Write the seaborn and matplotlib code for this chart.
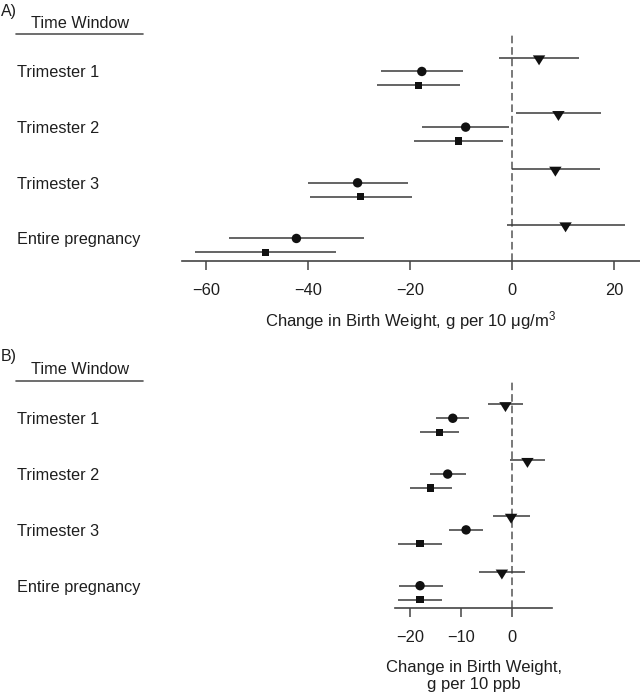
import numpy as np
import pandas as pd
import matplotlib
matplotlib.use("Agg")
import matplotlib.pyplot as plt
import matplotlib.transforms as mtransforms
from matplotlib.lines import Line2D
import seaborn as sns

# time windows and models (top to bottom inside each window)
windows = ["Trimester 1", "Trimester 2", "Trimester 3", "Entire pregnancy"]
models = ["Model 1", "Model 2", "Model 3"]

# panel A: change per 10 ug/m3
pm_m1_est = [5.3, 9.1, 8.5, 10.5]
pm_m1_lo = [-2.5, 0.8, 0.0, -1.0]
pm_m1_hi = [13.1, 17.4, 17.3, 22.2]
pm_m2_est = [-17.7, -9.1, -30.3, -42.3]
pm_m2_lo = [-25.7, -17.6, -40.1, -55.6]
pm_m2_hi = [-9.7, -0.5, -20.5, -29.0]
pm_m3_est = [-18.4, -10.5, -29.7, -48.4]
pm_m3_lo = [-26.4, -19.3, -39.7, -62.2]
pm_m3_hi = [-10.3, -1.8, -19.7, -34.5]

# panel B: change per 10 ppb
ppb_m1_est = [-1.3, 3.0, -0.2, -2.0]
ppb_m1_lo = [-4.8, -0.5, -3.8, -6.5]
ppb_m1_hi = [2.2, 6.5, 3.5, 2.6]
ppb_m2_est = [-11.6, -12.6, -9.0, -18.0]
ppb_m2_lo = [-14.9, -16.1, -12.3, -22.2]
ppb_m2_hi = [-8.4, -9.0, -5.6, -13.6]
ppb_m3_est = [-14.2, -15.9, -18.0, -18.0]
ppb_m3_lo = [-18.1, -19.9, -22.3, -22.3]
ppb_m3_hi = [-10.3, -11.7, -13.7, -13.7]

ticks_a = [-60, -40, -20, 0, 20]
ticks_b = [-20, -10, 0]
xlabel_a = "Change in Birth Weight, g per 10 \u03bcg/m$^{3}$"
xlabel_b = "Change in Birth Weight,\ng per 10 ppb"


def build(est, lo, hi):
    rows = []
    for j, m in enumerate(models):
        for i, w in enumerate(windows):
            rows.append(dict(window=w, model=m, est=est[j][i], lo=lo[j][i],
                             hi=hi[j][i], ypos=i * 4 + j))
    return pd.DataFrame(rows)


df_a = build([pm_m1_est, pm_m2_est, pm_m3_est],
             [pm_m1_lo, pm_m2_lo, pm_m3_lo],
             [pm_m1_hi, pm_m2_hi, pm_m3_hi])
df_b = build([ppb_m1_est, ppb_m2_est, ppb_m3_est],
             [ppb_m1_lo, ppb_m2_lo, ppb_m3_lo],
             [ppb_m1_hi, ppb_m2_hi, ppb_m3_hi])

sns.set_theme(style="white")
plt.rcParams["font.family"] = ["Liberation Sans", "DejaVu Sans"]
plt.rcParams["mathtext.fontset"] = "custom"
plt.rcParams["mathtext.rm"] = "Liberation Sans"
plt.rcParams["mathtext.it"] = "Liberation Sans"
plt.rcParams["mathtext.default"] = "regular"

W, H = 640, 695
fig = plt.figure(figsize=(W / 100, H / 100), dpi=100)

line_col = "#3a3a3a"
txt_col = "#1e1e1e"
tri = [(-1, 0.35), (1, 0.35), (0, -1.25)]
marker_map = {"Model 1": tri, "Model 2": "o", "Model 3": "s"}
size_map = {"Model 1": 125, "Model 2": 46, "Model 3": 27}


def px_axes(x0, x1, ytop, ybot):
    return fig.add_axes([x0 / W, 1 - ybot / H, (x1 - x0) / W, (ybot - ytop) / H])


def draw(ax, df, xlim, ticks, xlabel, xlabel_y):
    ax.hlines(df["ypos"], df["lo"], df["hi"], color=line_col, lw=1.1, zorder=1)
    for m in models:
        sub = df[df["model"] == m]
        sns.scatterplot(data=sub, x="est", y="ypos", marker=marker_map[m],
                        s=size_map[m], color="#111111", edgecolor="none",
                        linewidth=0, legend=False, ax=ax, zorder=3)
    ax.axvline(0, color="#555555", lw=1.1, dashes=(5, 2.5), zorder=0)
    ax.set_xlim(xlim)
    ax.set_ylim(14.62, -1.62)
    ax.set_xticks(ticks)
    ax.set_yticks([])
    ax.set_ylabel("")
    sns.despine(ax=ax, left=True)
    ax.spines["bottom"].set_color("#444444")
    ax.spines["bottom"].set_linewidth(1.2)
    ax.tick_params(axis="x", bottom=True, direction="out", length=6.5, width=1.1,
                   color="#444444", pad=9, labelsize=11.8, labelcolor=txt_col)
    ax.set_xlabel(xlabel, fontsize=12, color=txt_col, va="center",
                  linespacing=1.2)
    ax.xaxis.set_label_coords(0.5, xlabel_y)
    # row labels on the left
    trans = mtransforms.blended_transform_factory(fig.transFigure, ax.transData)
    for i, w in enumerate(windows):
        ax.text(17 / W, i * 4 + 1, w, transform=trans, ha="left",
                va="center_baseline", fontsize=11.7, color=txt_col, clip_on=False)


def header(tag, y_tag, y_title, y_line):
    fig.text(1 / W, 1 - y_tag / H, tag, ha="left", va="center",
             fontsize=11.5, color=txt_col)
    fig.text(80 / W, 1 - y_title / H, "Time Window", ha="center", va="center",
             fontsize=11.7, color=txt_col)
    fig.add_artist(Line2D([16 / W, 143 / W], [1 - y_line / H] * 2,
                          transform=fig.transFigure, color="#555555", lw=1.2))


ax_a = px_axes(181.7, 640, 35, 261)
draw(ax_a, df_a, (-64.8, 25.1), ticks_a, xlabel_a, -0.262)
header("A)", 11.7, 23.3, 34)

ax_b = px_axes(395, 552, 381.7, 608.3)
draw(ax_b, df_b, (-22.9, 7.8), ticks_b, xlabel_b, -0.30)
header("B)", 357, 369, 380.7)

fig.savefig("out.png", dpi=100)
